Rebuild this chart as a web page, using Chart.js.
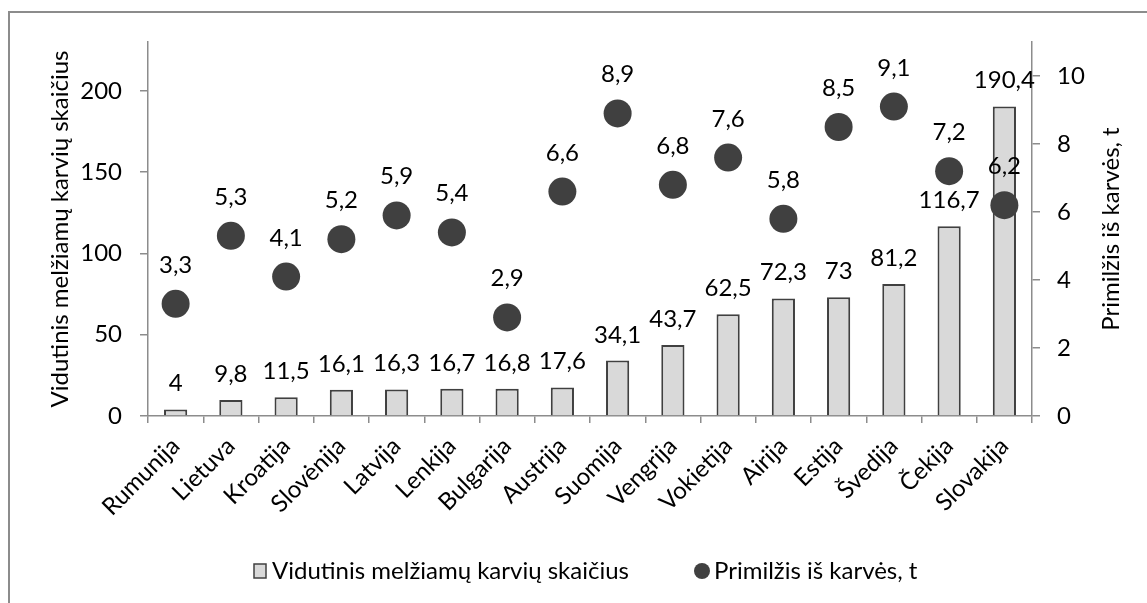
<!DOCTYPE html>
<html>
<head>
<meta charset="utf-8">
<script src="https://cdn.jsdelivr.net/npm/chart.js@4.4.0/dist/chart.umd.min.js"></script>
<style>
  html, body { margin: 0; padding: 0; background: #fff; }
  canvas { display: block; }
</style>
</head>
<body>
<canvas id="chart" width="1147" height="603"></canvas>
<script>
// chart data
const countries = ["Rumunija", "Lietuva", "Kroatija", "Slovėnija", "Latvija", "Lenkija", "Bulgarija", "Austrija",
  "Suomija", "Vengrija", "Vokietija", "Airija", "Estija", "Švedija", "Čekija", "Slovakija"];
const cowCounts = [4, 9.8, 11.5, 16.1, 16.3, 16.7, 16.8, 17.6, 34.1, 43.7, 62.5, 72.3, 73, 81.2, 116.7, 190.4];
const milkYield = [3.3, 5.3, 4.1, 5.2, 5.9, 5.4, 2.9, 6.6, 8.9, 6.8, 7.6, 5.8, 8.5, 9.1, 7.2, 6.2];
const leftTicks = [0, 50, 100, 150, 200];
const rightTicks = [0, 2, 4, 6, 8, 10];

const barLabel = "Vidutinis melžiamų karvių skaičius";
const pointLabel = "Primilžis iš karvės, t";

const FONT = "Lato, 'Open Sans', sans-serif";
const FONT_SIZE = 24;
const AXIS_GRAY = "#8c8c8c";
const DARK = "#404040";

function fmt(v) {
  return String(v).replace(".", ",");
}

// frame, axis titles, value labels and legend
const extras = {
  id: "extras",
  beforeDraw(chart) {
    const ctx = chart.ctx;
    ctx.save();
    ctx.fillStyle = "#fff";
    ctx.fillRect(0, 0, chart.width, chart.height);
    ctx.fillStyle = AXIS_GRAY;
    ctx.fillRect(8, 11, chart.width - 8, 2);
    ctx.fillRect(8, 11, 2, chart.height - 11);
    ctx.restore();
  },
  afterDatasetsDraw(chart) {
    const ctx = chart.ctx;
    const area = chart.chartArea;
    ctx.save();
    ctx.font = FONT_SIZE + "px " + FONT;
    ctx.fillStyle = "#000";
    ctx.textAlign = "center";
    ctx.textBaseline = "alphabetic";

    chart.getDatasetMeta(1).data.forEach((bar, i) => {
      ctx.fillText(fmt(cowCounts[i]), bar.x, bar.y - 18);
    });
    chart.getDatasetMeta(0).data.forEach((pt, i) => {
      ctx.fillText(fmt(milkYield[i]), pt.x, pt.y - 31);
    });

    // axis titles, both read bottom to top
    const midY = (area.top + area.bottom) / 2;
    ctx.save();
    ctx.translate(68, midY);
    ctx.rotate(-Math.PI / 2);
    ctx.fillText(barLabel, 0, 0);
    ctx.restore();
    ctx.save();
    ctx.translate(1119, midY);
    ctx.rotate(-Math.PI / 2);
    ctx.fillText(pointLabel, 0, 0);
    ctx.restore();

    // legend
    const ly = 571;
    ctx.textAlign = "left";
    ctx.textBaseline = "middle";
    ctx.fillStyle = "#d9d9d9";
    ctx.fillRect(254, ly - 7, 12, 14);
    ctx.strokeStyle = DARK;
    ctx.lineWidth = 1.5;
    ctx.strokeRect(254, ly - 7, 12, 14);
    ctx.fillStyle = "#000";
    ctx.fillText(barLabel, 272, ly);
    ctx.fillStyle = DARK;
    ctx.beginPath();
    ctx.arc(702, ly, 8, 0, Math.PI * 2);
    ctx.fill();
    ctx.fillStyle = "#000";
    ctx.fillText(pointLabel, 714, ly);
    ctx.restore();
  }
};

const ctx = document.getElementById("chart").getContext("2d");
window.myChart = new Chart(ctx, {
  type: "bar",
  data: {
    labels: countries,
    datasets: [
      {
        type: "line",
        label: pointLabel,
        data: milkYield,
        yAxisID: "y2",
        showLine: false,
        pointRadius: 14,
        pointHoverRadius: 14,
        pointBackgroundColor: DARK,
        pointBorderWidth: 0,
        order: 0,
      },
      {
        type: "bar",
        label: barLabel,
        data: cowCounts,
        yAxisID: "y",
        backgroundColor: "#d9d9d9",
        borderColor: DARK,
        borderWidth: 2,
        barPercentage: 0.42,
        categoryPercentage: 1,
        order: 1,
      },
    ],
  },
  options: {
    responsive: false,
    animation: false,
    devicePixelRatio: 1,
    layout: { padding: { top: 42, left: 0, right: 0, bottom: 0 } },
    plugins: {
      legend: { display: false },
      tooltip: { enabled: false },
    },
    scales: {
      x: {
        offset: true,
        grid: { offset: true, drawOnChartArea: false, tickLength: 7, color: AXIS_GRAY, lineWidth: 1.5 },
        border: { color: AXIS_GRAY, width: 1.5 },
        ticks: {
          minRotation: 45,
          maxRotation: 45,
          autoSkip: false,
          padding: 9,
          color: "#000",
          font: { family: FONT, size: FONT_SIZE },
        },
        afterFit(scale) { scale.height = 187; },
      },
      y: {
        position: "left",
        min: 0,
        max: 230,
        grid: { drawOnChartArea: false, tickLength: 8, color: AXIS_GRAY, lineWidth: 1.5 },
        border: { color: AXIS_GRAY, width: 1.5 },
        ticks: { padding: 18, color: "#000", font: { family: FONT, size: FONT_SIZE } },
        afterBuildTicks(scale) { scale.ticks = leftTicks.map((v) => ({ value: v })); },
        afterFit(scale) { scale.width = 148; },
      },
      y2: {
        position: "right",
        min: 0,
        max: 11,
        grid: { drawOnChartArea: false, tickLength: 8, color: AXIS_GRAY, lineWidth: 1.5 },
        border: { color: AXIS_GRAY, width: 1.5 },
        ticks: { padding: 17, color: "#000", font: { family: FONT, size: FONT_SIZE } },
        afterBuildTicks(scale) { scale.ticks = rightTicks.map((v) => ({ value: v })); },
        afterFit(scale) { scale.width = 115; },
      },
    },
  },
  plugins: [extras],
});
</script>
</body>
</html>
